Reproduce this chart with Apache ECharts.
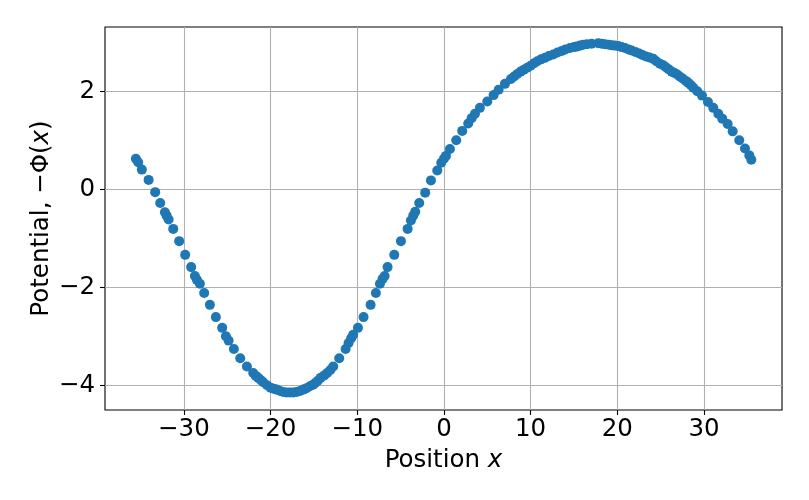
<!DOCTYPE html>
<html>
<head>
<meta charset="utf-8">
<script src="https://cdn.jsdelivr.net/npm/echarts@6/dist/echarts.min.js"></script>
<style>
  html, body { margin: 0; padding: 0; background: #fff; }
  #chart { width: 809px; height: 500px; }
</style>
</head>
<body>
<div id="chart"></div>
<script>
// positions x and potential -Phi(x)
const posX = [
  -35.54, -35.27, -34.85, -34.07, -33.31, -32.73, -32.19, -31.99, -31.76, -31.23,
  -30.54, -29.85, -29.16, -28.73, -28.50, -28.15, -27.66, -27.00, -26.31, -25.58,
  -25.15, -24.84, -24.23, -23.50, -22.73, -22.00, -21.70, -21.43, -21.10, -20.85,
  -20.40, -20.00, -19.65, -19.30, -18.90, -18.54, -18.15, -17.77, -17.40, -17.00,
  -16.60, -16.23, -15.85, -15.46, -15.10, -14.88, -14.55, -14.23, -13.80, -13.47,
  -13.10, -12.77, -12.08, -11.34, -11.00, -10.70, -10.47, -9.92, -9.27, -8.46,
  -7.85, -7.38, -7.07, -6.84, -6.50, -5.73, -4.96, -4.19, -3.81, -3.54,
  -3.31, -2.85, -2.16, -1.50, -0.77, -0.31, 0.00, 0.23, 0.69, 1.42,
  2.11, 2.80, 3.20, 3.58, 4.15, 5.00, 5.73, 6.31, 7.04, 7.73,
  8.10, 8.46, 8.85, 9.23, 9.60, 10.00, 10.40, 10.77, 11.20, 11.65,
  12.10, 12.61, 13.10, 13.58, 14.00, 14.54, 15.00, 15.31, 15.70, 16.07,
  16.50, 17.04, 17.80, 18.20, 18.58, 19.00, 19.35, 19.70, 20.11, 20.50,
  20.88, 21.30, 21.66, 22.10, 22.53, 22.90, 23.31, 23.70, 24.15, 24.50,
  24.92, 25.30, 25.61, 25.90, 26.27, 26.60, 26.92, 27.20, 27.54, 27.90,
  28.19, 28.50, 28.77, 29.23, 29.77, 30.46, 31.07, 31.65, 32.11, 32.73,
  33.31, 34.07, 34.73, 35.23, 35.46
];
const potential = [
  0.63, 0.56, 0.41, 0.20, -0.05, -0.27, -0.46, -0.53, -0.61, -0.80,
  -1.05, -1.33, -1.58, -1.76, -1.84, -1.92, -2.11, -2.35, -2.60, -2.82,
  -2.99, -3.08, -3.25, -3.44, -3.61, -3.74, -3.80, -3.84, -3.89, -3.93,
  -3.99, -4.04, -4.06, -4.08, -4.11, -4.13, -4.14, -4.14, -4.14, -4.13,
  -4.11, -4.08, -4.05, -4.01, -3.98, -3.95, -3.90, -3.84, -3.79, -3.74,
  -3.68, -3.61, -3.44, -3.25, -3.13, -3.03, -2.96, -2.82, -2.60, -2.35,
  -2.11, -1.92, -1.82, -1.76, -1.58, -1.33, -1.05, -0.80, -0.63, -0.53,
  -0.45, -0.27, -0.06, 0.19, 0.39, 0.55, 0.63, 0.69, 0.83, 1.01,
  1.20, 1.35, 1.46, 1.55, 1.67, 1.80, 1.93, 2.04, 2.16, 2.26,
  2.31, 2.36, 2.41, 2.45, 2.49, 2.53, 2.58, 2.62, 2.66, 2.69,
  2.73, 2.76, 2.80, 2.83, 2.86, 2.89, 2.91, 2.92, 2.94, 2.96,
  2.97, 2.98, 2.99, 2.98, 2.97, 2.96, 2.95, 2.94, 2.93, 2.91,
  2.89, 2.86, 2.84, 2.81, 2.78, 2.75, 2.72, 2.70, 2.67, 2.62,
  2.57, 2.54, 2.50, 2.46, 2.41, 2.38, 2.35, 2.31, 2.27, 2.22,
  2.18, 2.13, 2.08, 2.01, 1.92, 1.79, 1.67, 1.55, 1.45, 1.34,
  1.19, 1.01, 0.84, 0.70, 0.61
];
const xTicks = [-30, -20, -10, 0, 10, 20, 30];
const yTicks = [-4, -2, 0, 2];

const points = posX.map((x, i) => [x, potential[i]]);
const fmt = v => (v < 0 ? '\u2212' + Math.abs(v) : String(v));
const font = 'DejaVu Sans';
const fs = 24.5;

const chart = echarts.init(document.getElementById('chart'), null, { renderer: 'canvas' });
chart.setOption({
    animation: false,
    backgroundColor: '#fff',
    grid: {
        left: 105, right: 27, top: 27, bottom: 90,
        show: true, borderColor: '#000', borderWidth: 1.1, backgroundColor: 'transparent'
    },
    xAxis: {
        type: 'value',
        min: -39.1, max: 39.0,
        splitNumber: 8, minInterval: 10, maxInterval: 10,
        name: 'Position {i|x}',
        nameLocation: 'middle',
        nameGap: 38,
        nameMoveOverlap: false,
        nameTextStyle: {
            fontFamily: font, fontSize: fs, color: '#000',
            rich: { i: { fontFamily: font, fontSize: fs, fontStyle: 'italic', color: '#000' } }
        },
        axisLine: { show: false, onZero: false },
        axisTick: { show: true, inside: false, length: 5, customValues: xTicks, lineStyle: { color: '#000', width: 1.1 } },
        axisLabel: {
            customValues: xTicks,
            margin: 7, fontFamily: font, fontSize: fs, color: '#000', formatter: fmt
        },
        splitLine: { show: true, lineStyle: { color: '#b0b0b0', width: 1.1 } }
    },
    yAxis: {
        type: 'value',
        min: -4.496, max: 3.32,
        splitNumber: 4, minInterval: 2, maxInterval: 2,
        name: 'Potential, \u2212\u03A6({i|x})',
        nameLocation: 'middle',
        nameGap: 51,
        nameMoveOverlap: false,
        nameRotate: 90,
        nameTextStyle: {
            fontFamily: font, fontSize: fs, color: '#000',
            rich: { i: { fontFamily: font, fontSize: fs, fontStyle: 'italic', color: '#000' } }
        },
        axisLine: { show: false, onZero: false },
        axisTick: { show: true, inside: false, length: 5, customValues: yTicks, lineStyle: { color: '#000', width: 1.1 } },
        axisLabel: {
            customValues: yTicks,
            margin: 10, fontFamily: font, fontSize: fs, color: '#000', formatter: fmt
        },
        splitLine: { show: true, lineStyle: { color: '#b0b0b0', width: 1.1 } }
    },
    series: [
        {
            type: 'scatter',
            data: points,
            symbol: 'circle',
            symbolSize: 10,
            itemStyle: { color: '#1f77b4', opacity: 1 }
        }
    ]
});
</script>
</body>
</html>
